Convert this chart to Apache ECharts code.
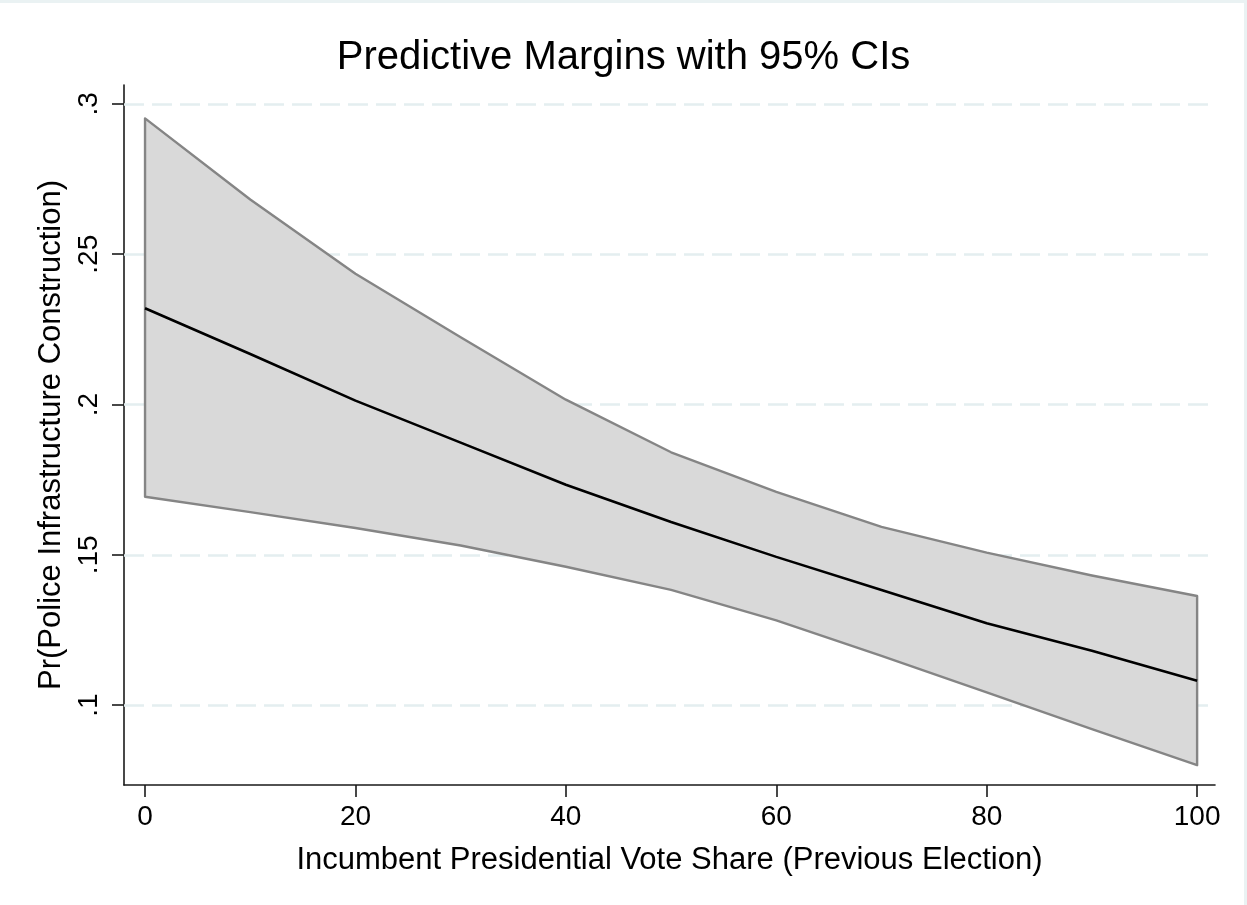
<!DOCTYPE html>
<html>
<head>
<meta charset="utf-8">
<title>Predictive Margins with 95% CIs</title>
<script src="https://cdn.jsdelivr.net/npm/echarts@6/dist/echarts.min.js"></script>
<style>
  html, body { margin: 0; padding: 0; background: #ffffff; }
  #chart { width: 1247px; height: 905px; }
</style>
</head>
<body>
<div id="chart"></div>
<script>
// Vote share points at which the margins were evaluated
const voteShare = [0, 10, 20, 30, 40, 50, 60, 70, 80, 90, 100];
// Predicted probability and its 95% confidence bounds
const margin = [0.2320, 0.2168, 0.2013, 0.1873, 0.1733, 0.1609, 0.1493, 0.1383, 0.1272, 0.1181, 0.1081];
const upperCI = [0.2952, 0.2682, 0.2435, 0.2224, 0.2016, 0.1841, 0.1709, 0.1593, 0.1507, 0.1431, 0.1363];
const lowerCI = [0.1693, 0.1642, 0.1589, 0.1531, 0.1460, 0.1383, 0.1282, 0.1164, 0.1042, 0.0920, 0.0800];
// Axis ticks
const xTicks = [0, 20, 40, 60, 80, 100];
const yTicks = [0.1, 0.15, 0.2, 0.25, 0.3];

const FONT = '"Liberation Sans", Arial, sans-serif';
const chart = echarts.init(document.getElementById('chart'), null, { renderer: 'canvas' });

// Band polygon: upper bound left to right, then lower bound right to left
const bandData = voteShare.map((x, i) => [x, lowerCI[i], upperCI[i]]);

function renderBand(params, api) {
  if (params.dataIndex !== 0) return null;
  const pts = [];
  for (let i = 0; i < voteShare.length; i++) pts.push(api.coord([voteShare[i], upperCI[i]]));
  for (let i = voteShare.length - 1; i >= 0; i--) pts.push(api.coord([voteShare[i], lowerCI[i]]));
  return {
    type: 'polygon',
    shape: { points: pts },
    style: { fill: '#d9d9d9', stroke: '#858585', lineWidth: 2.4, lineJoin: 'round' }
  };
}

chart.setOption({
  backgroundColor: '#ffffff',
  animation: false,
  title: {
    text: 'Predictive Margins with 95% CIs',
    left: 'center',
    top: 33,
    textStyle: { fontFamily: FONT, fontSize: 40, fontWeight: 'normal', color: '#000000' }
  },
  graphic: [
    { type: 'rect', left: 0, top: 0, shape: { width: 1247, height: 3 }, style: { fill: '#eaf2f3' }, silent: true },
    { type: 'rect', right: 0, top: 0, shape: { width: 3, height: 905 }, style: { fill: '#eaf2f3' }, silent: true }
  ],
  grid: { left: 124, right: 32, top: 85, bottom: 120, containLabel: false },
  xAxis: {
    type: 'value',
    min: -2,
    max: 101.7,
    name: 'Incumbent Presidential Vote Share (Previous Election)',
    nameLocation: 'middle',
    nameGap: 60,
    nameTextStyle: { fontFamily: FONT, fontSize: 31, color: '#000000' },
    axisLine: { show: true, onZero: false, lineStyle: { color: '#1a1a1a', width: 1.6 } },
    axisTick: { show: true, customValues: xTicks, length: 12, inside: false, lineStyle: { color: '#1a1a1a', width: 1.6 } },
    axisLabel: { customValues: xTicks, margin: 18, fontFamily: FONT, fontSize: 28, color: '#000000' },
    splitLine: { show: false }
  },
  yAxis: {
    type: 'value',
    min: 0.0734,
    max: 0.3063,
    name: 'Pr(Police Infrastructure Construction)',
    nameLocation: 'middle',
    nameGap: 54,
    nameTextStyle: { fontFamily: FONT, fontSize: 31, color: '#000000' },
    axisLine: { show: true, onZero: false, lineStyle: { color: '#1a1a1a', width: 1.6 } },
    axisTick: { show: true, customValues: yTicks, length: 12, inside: false, lineStyle: { color: '#1a1a1a', width: 1.6 } },
    axisLabel: {
      customValues: yTicks,
      rotate: 90,
      margin: 21,
      fontFamily: FONT,
      fontSize: 28,
      color: '#000000',
      formatter: v => String(+v.toFixed(2)).replace(/^0/, '')
    },
    splitLine: { show: false }
  },
  series: [
    {
      // carries the dashed horizontal grid lines behind the band
      type: 'line',
      data: [],
      z: 1,
      markLine: {
        silent: true,
        symbol: 'none',
        z: 1,
        label: { show: false },
        lineStyle: { type: [20, 8], color: '#e4eef0', width: 2.5 },
        data: yTicks.map(v => ({ yAxis: v }))
      }
    },
    {
      type: 'custom',
      z: 2,
      renderItem: renderBand,
      data: bandData,
      encode: { x: 0, y: [1, 2] }
    },
    {
      type: 'line',
      z: 3,
      data: voteShare.map((x, i) => [x, margin[i]]),
      symbol: 'none',
      smooth: false,
      lineStyle: { color: '#000000', width: 2.6 }
    }
  ]
});
</script>
</body>
</html>
